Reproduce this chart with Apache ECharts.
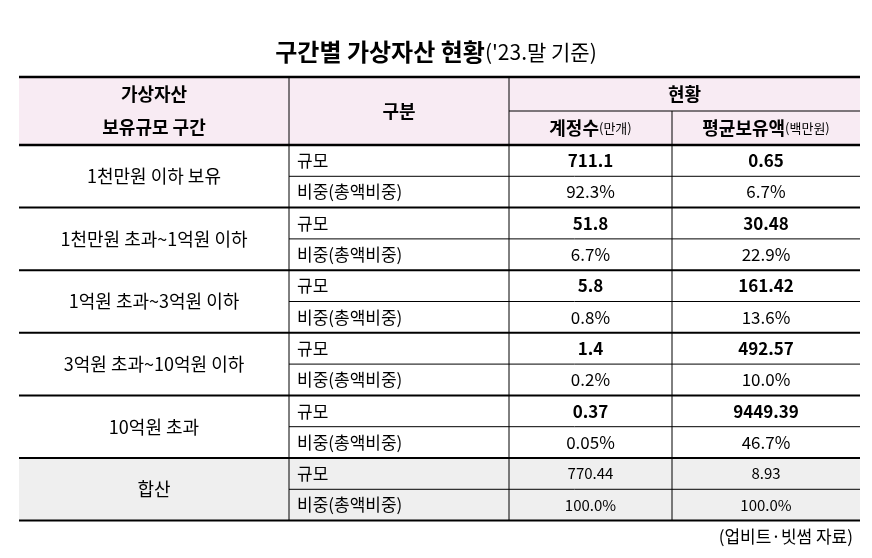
<!DOCTYPE html>
<html><head><meta charset="utf-8">
<script src="https://cdn.jsdelivr.net/npm/echarts@6/dist/echarts.min.js"></script>
<style>html,body{margin:0;background:#fff}#c{width:872px;height:558px}</style>
</head><body><div id="c"></div>
<script>
const title = '구간별 가상자산 현황'
const titleSub = '(\'23.말 기준)'
const groups = ['1천만원 이하 보유', '1천만원 초과~1억원 이하', '1억원 초과~3억원 이하', '3억원 초과~10억원 이하', '10억원 초과', '합산']
const rowKinds = ['규모', '비중(총액비중)']
const accountScale = ['711.1', '51.8', '5.8', '1.4', '0.37', '770.44']
const accountShare = ['92.3%', '6.7%', '0.8%', '0.2%', '0.05%', '100.0%']
const avgScale = ['0.65', '30.48', '161.42', '492.57', '9449.39', '8.93']
const avgShare = ['6.7%', '22.9%', '13.6%', '10.0%', '46.7%', '100.0%']
const source = '(업비트·빗썸 자료)'

const FONT = '"Noto Sans CJK KR", "Noto Sans", sans-serif'
const colX = [19, 289, 509, 672, 860]
const headTop = 77, headMid = 111, headBot = 145, rowH = 31.3
const els = []

function rect(x, y, w, h, fill) {
	els.push({ type: 'rect', shape: { x, y, width: w, height: h }, style: { fill }, z: 0 })
}
function line(x1, y1, x2, y2, w) {
	els.push({ type: 'line', shape: { x1, y1, x2, y2 }, style: { stroke: '#000', lineWidth: w }, z: 2 })
}
function text(s, x, y, opt) {
	opt = opt || {}
	els.push({ type: 'text', x, y, z: 3, style: {
		text: s, fontFamily: FONT, fontSize: opt.size || 17, fontWeight: opt.bold ? 'bold' : 'normal',
		fill: '#000', align: opt.align || 'center', verticalAlign: 'middle' } })
}

// header
rect(colX[0], headTop, colX[4] - colX[0], headBot - headTop, '#f8ebf3')
const tableBot = headBot + rowH * 12
rect(colX[0], headBot + rowH * 10, colX[4] - colX[0], rowH * 2, '#efefef')

els.push({ type: 'text', x: 436, y: 52, z: 3, style: { text: '{a|' + title + '}{b|' + titleSub + '}', align: 'center', verticalAlign: 'middle',
	rich: { a: { fontFamily: FONT, fontSize: 24, fontWeight: 'bold', fill: '#000' }, b: { fontFamily: FONT, fontSize: 21, fill: '#000' } } } })

text('가상자산', colX[0] + (colX[1] - colX[0]) / 2, 94, { bold: true, size: 18 })
text('보유규모 구간', colX[0] + (colX[1] - colX[0]) / 2, 127, { bold: true, size: 18 })
text('구분', (colX[1] + colX[2]) / 2, headTop + (headBot - headTop) / 2, { bold: true, size: 18 })
text('현황', (colX[2] + colX[4]) / 2, 94, { bold: true, size: 18 })
const rich = { a: { fontFamily: FONT, fontSize: 18, fontWeight: 'bold', fill: '#000' }, b: { fontFamily: FONT, fontSize: 13, fill: '#000' } }
els.push({ type: 'text', x: (colX[2] + colX[3]) / 2, y: 128, z: 3, style: { text: '{a|계정수}{b|(만개)}', align: 'center', verticalAlign: 'middle', rich } })
els.push({ type: 'text', x: (colX[3] + colX[4]) / 2, y: 128, z: 3, style: { text: '{a|평균보유액}{b|(백만원)}', align: 'center', verticalAlign: 'middle', rich } })

groups.forEach((g, i) => {
	const y0 = headBot + rowH * 2 * i
	const last = i === groups.length - 1
	text(g, colX[0] + (colX[1] - colX[0]) / 2, y0 + rowH, { size: 18 })
	rowKinds.forEach((k, r) => {
		const yc = y0 + rowH * r + rowH / 2
		text(k, colX[1] + 8, yc, { align: 'left', size: 17 })
	})
	text(accountScale[i], (colX[2] + colX[3]) / 2, y0 + rowH / 2, { bold: !last, size: last ? 15 : 17 })
	text(avgScale[i], (colX[3] + colX[4]) / 2, y0 + rowH / 2, { bold: !last, size: last ? 15 : 17 })
	text(accountShare[i], (colX[2] + colX[3]) / 2, y0 + rowH * 1.5, { size: last ? 15 : 17 })
	text(avgShare[i], (colX[3] + colX[4]) / 2, y0 + rowH * 1.5, { size: last ? 15 : 17 })
	line(colX[1], y0 + rowH, colX[4], y0 + rowH, 1)
	if (i > 0) line(colX[0], y0, colX[4], y0, 2)
})

line(colX[0], headTop, colX[4], headTop, 2.5)
line(colX[0], headBot, colX[4], headBot, 2.5)
line(colX[2], headMid, colX[4], headMid, 1)
line(colX[0], tableBot, colX[4], tableBot, 2)
line(colX[1], headTop, colX[1], tableBot, 1)
line(colX[2], headTop, colX[2], tableBot, 1)
line(colX[3], headMid, colX[3], tableBot, 1)

text(source, 853, 537, { align: 'right', size: 17 })

const chart = echarts.init(document.getElementById('c'))
chart.setOption({ backgroundColor: '#fff', animation: false, graphic: els })
</script></body></html>
